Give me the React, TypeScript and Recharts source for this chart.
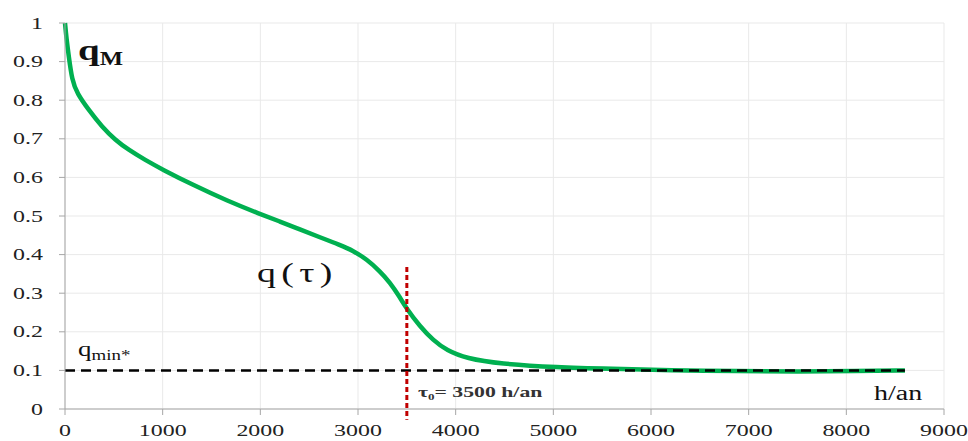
import { LineChart, Line, XAxis, YAxis, CartesianGrid, ReferenceLine } from 'recharts';

// q(τ) curve
const TAU = [0, 15, 38, 72, 123, 242, 379, 515, 652, 822, 993, 1314, 1656, 1998, 2200, 2405, 2610, 2815, 2951, 3088, 3224, 3327, 3420, 3497, 3634, 3770, 3907, 4112, 4452, 5032, 5600, 6200, 6900, 7500, 8100, 8600];
const Q = [1.0, 0.96, 0.915, 0.852, 0.818, 0.775, 0.731, 0.697, 0.671, 0.645, 0.621, 0.58, 0.54, 0.505, 0.486, 0.465, 0.445, 0.425, 0.41, 0.388, 0.357, 0.328, 0.293, 0.26, 0.214, 0.178, 0.152, 0.131, 0.117, 0.108, 0.104, 0.1, 0.098, 0.097, 0.098, 0.1];

// q_min* level
const QMIN_TAU = [0, 8600];
const QMIN = [0.1, 0.1];

// τ0 marker
const TAU0 = 3500;
const TAU0_TOP = 0.368;
const TAU0_BOTTOM = -0.028;

const X_TICKS = [0, 1000, 2000, 3000, 4000, 5000, 6000, 7000, 8000, 9000];
const Y_TICKS = [0, 0.1, 0.2, 0.3, 0.4, 0.5, 0.6, 0.7, 0.8, 0.9, 1];
const Y_MINOR = Array.from({ length: 51 }, (_, i) => Math.round(i * 2) / 100);

const curve = TAU.map((t, i) => ({ t, q: Q[i] }));
const qmin = QMIN_TAU.map((t, i) => ({ t, q: QMIN[i] }));

const SERIF = '"Liberation Serif", "Times New Roman", serif';
const SX = 1.45;
const AXIS = '#a6a6a6';

const XTick = ({ x, y, payload }: any) => (
  <text
    transform={`translate(${x},${y + 19}) scale(${SX},1)`}
    textAnchor="middle"
    fontFamily={SERIF}
    fontSize={16.5}
    fill="#222"
  >
    {payload.value}
  </text>
);

const YTick = ({ x, y, payload }: any) => (
  <text
    transform={`translate(${x - 14},${y + 5.5}) scale(${SX},1)`}
    textAnchor="end"
    fontFamily={SERIF}
    fontSize={16.5}
    fill="#222"
  >
    {payload.value}
  </text>
);

const Labels = () => (
  <svg width={968} height={441} style={{ position: 'absolute', left: 0, top: 0, pointerEvents: 'none' }}>
    <text transform="translate(78,60) scale(1.3,1)" fontFamily={SERIF} fontWeight="bold" fill="#111">
      <tspan fontSize={30}>q</tspan>
      <tspan fontSize={19} dy={5}>M</tspan>
    </text>
    <text transform="translate(257,282) scale(1.35,1)" fontFamily={SERIF} fontSize={28} letterSpacing={4} fill="#111">
      q(τ)
    </text>
    <text transform="translate(78,356) scale(1.35,1)" fontFamily={SERIF} fill="#111">
      <tspan fontSize={20}>q</tspan>
      <tspan fontSize={14} dy={4}>min*</tspan>
    </text>
    <text transform="translate(418,397) scale(1.45,1)" fontFamily={SERIF} fontWeight="bold" fontSize={15} fill="#333">
      <tspan>τ</tspan>
      <tspan fontSize={9} dy={3}>0</tspan>
      <tspan dy={-3}>= 3500 h/an</tspan>
    </text>
    <text transform="translate(874,400) scale(1.4,1)" fontFamily={SERIF} fontSize={20} fill="#111">
      h/an
    </text>
  </svg>
);

export default function App() {
  return (
    <div style={{ position: 'absolute', left: 0, top: 0, width: 968, height: 441, background: '#fff' }}>
      <LineChart width={968} height={441} margin={{ top: 23, right: 24, bottom: 0, left: 0 }}>
        <CartesianGrid stroke="#e9e9e9" strokeWidth={1} />
        <XAxis
          type="number"
          dataKey="t"
          domain={[0, 9000]}
          ticks={X_TICKS}
          interval={0}
          height={32}
          stroke={AXIS}
          tickSize={6}
          tick={<XTick />}
        />
        <YAxis
          type="number"
          dataKey="q"
          domain={[0, 1]}
          ticks={Y_TICKS}
          interval={0}
          width={65}
          stroke={AXIS}
          tickSize={6}
          tick={<YTick />}
        />
        <YAxis
          yAxisId="minor"
          type="number"
          domain={[0, 1]}
          ticks={Y_MINOR}
          interval={0}
          width={0}
          mirror
          axisLine={false}
          tickLine={{ stroke: '#bdbdbd' }}
          tickSize={5}
          tick={false}
        />
        <Line
          data={curve}
          dataKey="q"
          type="basis"
          stroke="#00b050"
          strokeWidth={4.5}
          dot={false}
          activeDot={false}
          isAnimationActive={false}
        />
        <Line
          data={qmin}
          dataKey="q"
          type="linear"
          stroke="#000"
          strokeWidth={2.5}
          strokeDasharray="10 6"
          dot={false}
          activeDot={false}
          isAnimationActive={false}
        />
        <ReferenceLine
          segment={[{ x: TAU0, y: TAU0_TOP }, { x: TAU0, y: TAU0_BOTTOM }]}
          ifOverflow="visible"
          stroke="#c00000"
          strokeWidth={3}
          strokeDasharray="5 3"
        />
      </LineChart>
      <Labels />
    </div>
  );
}
